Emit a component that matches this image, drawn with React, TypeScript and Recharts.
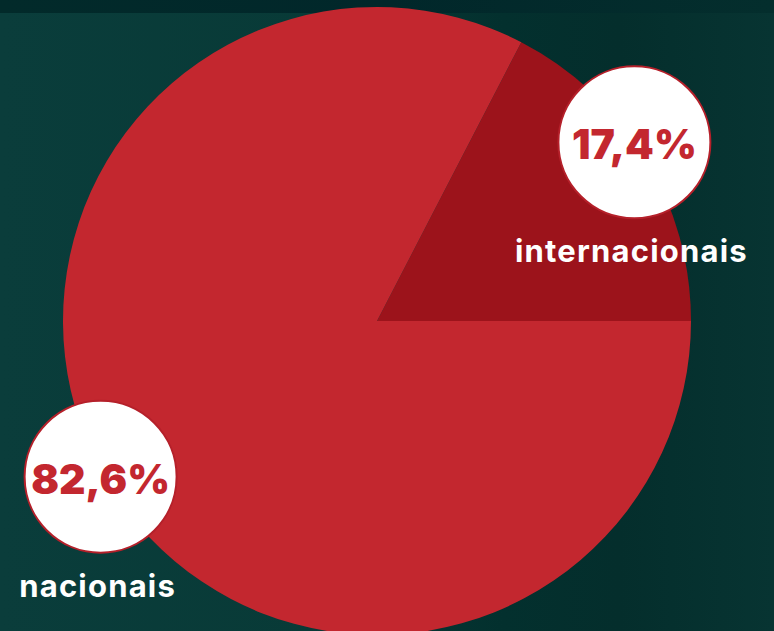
import React from 'react';
import { PieChart, Pie, Cell } from 'recharts';

const categories = ['internacionais', 'nacionais'];
const shares = [17.4, 82.6];
const colors = ['#9C131B', '#C3272F'];

const data = categories.map((name, i) => ({ name, value: shares[i] }));

const RADIAN = Math.PI / 180;
// small nudges so the bubbles sit where the original puts them
const nudges = [
  { dx: -10, dy: -16 },
  { dx: -9, dy: -7 },
];

const renderLabel = (props: any) => {
  const { cx, cy, midAngle, outerRadius, index, value, name } = props;
  const r = outerRadius - 1;
  const x = cx + r * Math.cos(-midAngle * RADIAN) + nudges[index].dx;
  const y = cy + r * Math.sin(-midAngle * RADIAN) + nudges[index].dy;
  const pct = value.toFixed(1).replace('.', ',') + '%';
  return (
    <g>
      <circle cx={x} cy={y} r={76} fill="#ffffff" stroke="#B5202A" strokeWidth={2} />
      <text
        x={x}
        y={y + 2}
        textAnchor="middle"
        dominantBaseline="central"
        fill="#C3272F"
        style={{ fontFamily: 'Inter, "Noto Sans", sans-serif', fontWeight: 900, fontSize: 41, letterSpacing: 0 }}
      >
        {pct}
      </text>
      <text
        x={x - 3}
        y={y + 120}
        textAnchor="middle"
        fill="#ffffff"
        style={{ fontFamily: 'Inter, "Noto Sans", sans-serif', fontWeight: 700, fontSize: 31, letterSpacing: 1.2 }}
      >
        {name}
      </text>
    </g>
  );
};

export default function App() {
  return (
    <div
      style={{
        position: 'absolute',
        left: 0,
        top: 0,
        width: 774,
        height: 631,
        overflow: 'hidden',
        background: 'linear-gradient(90deg, #0a3d3b 0%, #083a37 40%, #03302e 65%, #042e2c 80%, #073432 100%)',
      }}
    >
      <div
        style={{
          position: 'absolute',
          left: 0,
          top: 0,
          width: 774,
          height: 13,
          background: 'linear-gradient(90deg, #022a2a 0%, #01272a 50%, #042e2d 100%)',
        }}
      />
      <PieChart
        width={774}
        height={631}
        margin={{ top: 0, right: 0, bottom: 0, left: 0 }}
        style={{ position: 'absolute', left: 0, top: 0 }}
      >
        <Pie
          data={data}
          dataKey="value"
          nameKey="name"
          cx={377}
          cy={321}
          outerRadius={314}
          startAngle={0}
          endAngle={360}
          stroke="none"
          label={renderLabel}
          labelLine={false}
          isAnimationActive={false}
        >
          {data.map((entry, i) => (
            <Cell key={entry.name} fill={colors[i]} />
          ))}
        </Pie>
      </PieChart>
    </div>
  );
}
